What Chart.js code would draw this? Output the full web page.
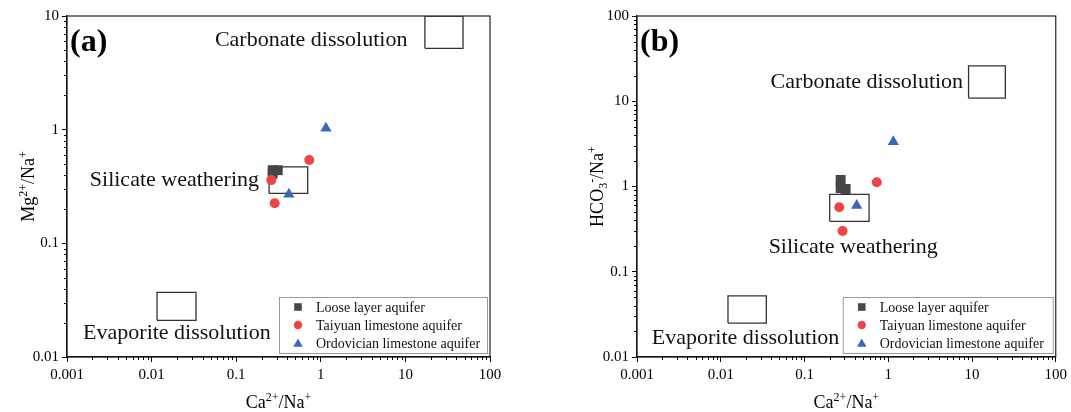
<!DOCTYPE html>
<html>
<head>
<meta charset="utf-8">
<script src="https://cdn.jsdelivr.net/npm/chart.js@4/dist/chart.umd.min.js"></script>
<style>
  body { margin: 0; background: #fff; }
  #wrap { position: relative; width: 1071px; height: 412px; }
  #ca { position: absolute; left: 0; top: 0; }
  #cb { position: absolute; left: 535px; top: 0; }
</style>
</head>
<body>
<div id="wrap">
  <canvas id="ca" width="535" height="412"></canvas>
  <canvas id="cb" width="536" height="412"></canvas>
</div>
<script>
// series
const seriesNames = ['Loose layer aquifer', 'Taiyuan limestone aquifer', 'Ordovician limestone aquifer'];

// Ca2+/Na+ (shared x of both panels)
const caNaLoose = [0.27, 0.27, 0.31];
const caNaTaiyuan = [0.73, 0.26, 0.285];
const caNaOrdo = [1.15, 0.42];

// Mg2+/Na+ (panel a)
const mgNaLoose = [0.44, 0.41, 0.44];
const mgNaTaiyuan = [0.54, 0.36, 0.225];
const mgNaOrdo = [1.03, 0.27];

// HCO3-/Na+ (panel b)
const hco3NaLoose = [1.19, 0.96, 0.935];
const hco3NaTaiyuan = [1.12, 0.57, 0.30];
const hco3NaOrdo = [3.35, 0.60];

// end-member regions: [x range], [y range]
const regionNames = ['Carbonate dissolution', 'Silicate weathering', 'Evaporite dissolution'];
const regionsA = [
  [[17, 48], [5.2, 10]],
  [[0.245, 0.70], [0.275, 0.47]],
  [[0.0116, 0.0335], [0.021, 0.037]],
];
const regionsB = [
  [[9.1, 25], [10.9, 26]],
  [[0.2, 0.59], [0.39, 0.81]],
  [[0.0122, 0.035], [0.025, 0.052]],
];

// where the region names sit (data coords, anchor side)
const labelsA = [
  { x: 0.056, y: 6.1, align: 'left' },
  { x: 0.186, y: 0.36, align: 'right' },
  { x: 0.00155, y: 0.0163, align: 'left' },
];
const labelsB = [
  { x: 0.0394, y: 16.8, align: 'left' },
  { x: 0.0373, y: 0.195, align: 'left' },
  { x: 0.0015, y: 0.0167, align: 'left' },
];

const xDecades = [0.001, 0.01, 0.1, 1, 10, 100];
const yDecadesA = [0.01, 0.1, 1, 10];
const yDecadesB = [0.01, 0.1, 1, 10, 100];

const serif = '"Liberation Serif", "Times New Roman", serif';
const colors = ['#464646', '#ee4444', '#3a68b8'];
const styles = ['rect', 'circle', 'triangle'];

const pts = (xs, ys) => xs.map((x, i) => ({ x: x, y: ys[i] }));
const rect = (r) => [
  { x: r[0][0], y: r[1][0] }, { x: r[0][1], y: r[1][0] },
  { x: r[0][1], y: r[1][1] }, { x: r[0][0], y: r[1][1] },
  { x: r[0][0], y: r[1][0] },
];

// draw text with super/subscripts, centred on (0,0) of current transform
function drawRich(ctx, parts) {
  const base = '18px ' + serif, small = '12px ' + serif;
  let w = 0;
  parts.forEach(p => { ctx.font = p.s ? small : base; p.w = ctx.measureText(p.t).width; w += p.w; });
  let x = -w / 2;
  ctx.textAlign = 'left';
  ctx.textBaseline = 'alphabetic';
  parts.forEach(p => {
    ctx.font = p.s ? small : base;
    const dy = p.s === 'sup' ? -7 : (p.s === 'sub' ? 4 : 0);
    ctx.fillText(p.t, x, 6 + dy);
    x += p.w;
  });
}

function marker(ctx, style, x, y, color, r) {
  ctx.fillStyle = color;
  ctx.beginPath();
  if (style === 'rect') {
    ctx.rect(x - r, y - r, 2 * r, 2 * r);
  } else if (style === 'circle') {
    ctx.arc(x, y, r * 1.1, 0, Math.PI * 2);
  } else {
    ctx.moveTo(x, y - r * 1.2);
    ctx.lineTo(x + r * 1.25, y + r);
    ctx.lineTo(x - r * 1.25, y + r);
    ctx.closePath();
  }
  ctx.fill();
}

function makePanel(id, cfg) {
  const datasets = [];
  for (let i = 0; i < 3; i++) {
    datasets.push({
      label: seriesNames[i],
      data: pts(cfg.xs[i], cfg.ys[i]),
      pointStyle: styles[i],
      pointRadius: i === 0 ? 7 : (i === 1 ? 5 : 6.5),
      backgroundColor: colors[i],
      borderColor: colors[i],
      borderWidth: 0,
      order: 3 - i,
    });
  }
  cfg.regions.forEach(r => datasets.push({
    data: rect(r),
    showLine: true,
    pointRadius: 0,
    borderColor: '#333',
    borderWidth: 1.3,
    fill: false,
    order: 10,
  }));

  const decor = {
    id: 'decor',
    afterDraw(chart) {
      const ctx = chart.ctx, a = chart.chartArea;
      const sx = chart.scales.x, sy = chart.scales.y;
      ctx.save();
      // frame
      ctx.strokeStyle = '#222';
      ctx.lineWidth = 1.2;
      ctx.strokeRect(a.left, a.top, a.right - a.left, a.bottom - a.top);
      // minor ticks
      ctx.lineWidth = 1;
      ctx.strokeStyle = '#000';
      ctx.beginPath();
      xDecades.slice(0, -1).forEach(d => {
        for (let k = 2; k < 10; k++) {
          const px = Math.round(sx.getPixelForValue(d * k)) + 0.5;
          ctx.moveTo(px, a.bottom); ctx.lineTo(px, a.bottom + 3);
        }
      });
      cfg.yDecades.slice(0, -1).forEach(d => {
        for (let k = 2; k < 10; k++) {
          const py = Math.round(sy.getPixelForValue(d * k)) + 0.5;
          ctx.moveTo(a.left, py); ctx.lineTo(a.left - 3, py);
        }
      });
      ctx.stroke();

      // region names
      ctx.fillStyle = '#111';
      ctx.font = '22px ' + serif;
      ctx.textBaseline = 'middle';
      cfg.labels.forEach((l, i) => {
        ctx.textAlign = l.align;
        ctx.fillText(regionNames[i], sx.getPixelForValue(l.x), sy.getPixelForValue(l.y));
      });

      // panel letter
      ctx.font = 'bold 32px ' + serif;
      ctx.textAlign = 'left';
      ctx.fillStyle = '#000';
      ctx.fillText(cfg.letter, a.left + 3, a.top + 27);

      // axis titles
      ctx.fillStyle = '#000';
      ctx.save();
      ctx.translate((a.left + a.right) / 2, 402);
      drawRich(ctx, [{ t: 'Ca' }, { t: '2+', s: 'sup' }, { t: '/Na' }, { t: '+', s: 'sup' }]);
      ctx.restore();
      ctx.save();
      ctx.translate(cfg.yTitleX, (a.top + a.bottom) / 2);
      ctx.rotate(-Math.PI / 2);
      drawRich(ctx, cfg.yTitle);
      ctx.restore();

      // legend
      const lw = cfg.legendW, lh = 56;
      const lx = a.right - 3 - lw, ly = a.bottom - 4 - lh;
      ctx.fillStyle = '#fff';
      ctx.fillRect(lx, ly, lw, lh);
      ctx.strokeStyle = '#999';
      ctx.lineWidth = 1;
      ctx.strokeRect(lx + 0.5, ly + 0.5, lw, lh);
      ctx.font = '14px ' + serif;
      ctx.textBaseline = 'middle';
      for (let i = 0; i < 3; i++) {
        const ry = ly + 10 + i * 18;
        marker(ctx, styles[i], lx + 19, ry, colors[i], 3.8);
        ctx.fillStyle = '#111';
        ctx.textAlign = 'left';
        ctx.fillText(seriesNames[i], lx + 37, ry + 1);
      }
      ctx.restore();
    }
  };

  const tickFont = { family: serif, size: 15 };
  return new Chart(document.getElementById(id), {
    type: 'scatter',
    data: { datasets: datasets },
    options: {
      responsive: false,
      animation: false,
      events: [],
      layout: { padding: { top: 16, right: cfg.padRight, left: 0, bottom: 0 } },
      plugins: { legend: { display: false }, tooltip: { enabled: false } },
      scales: {
        x: {
          type: 'logarithmic',
          min: 0.001, max: 100,
          afterBuildTicks: s => { s.ticks = xDecades.map(v => ({ value: v })); },
          afterFit: s => { s.height = 55; },
          ticks: { font: tickFont, color: '#000', padding: 4, autoSkip: false, maxRotation: 0, callback: v => String(v) },
          grid: { drawOnChartArea: false, drawTicks: true, tickLength: 5, color: '#000' },
          border: { display: true, color: '#000', width: 1.2 },
        },
        y: {
          type: 'logarithmic',
          min: cfg.yDecades[0], max: cfg.yDecades[cfg.yDecades.length - 1],
          afterBuildTicks: s => { s.ticks = cfg.yDecades.map(v => ({ value: v })); },
          afterFit: s => { s.width = cfg.yAxisW; },
          ticks: { font: tickFont, color: '#000', padding: 3, autoSkip: false, callback: v => String(v) },
          grid: { drawOnChartArea: false, drawTicks: true, tickLength: 5, color: '#000' },
          border: { display: true, color: '#000', width: 1.2 },
        },
      },
    },
    plugins: [decor],
  });
}

makePanel('ca', {
  xs: [caNaLoose, caNaTaiyuan, caNaOrdo],
  ys: [mgNaLoose, mgNaTaiyuan, mgNaOrdo],
  regions: regionsA,
  labels: labelsA,
  yDecades: yDecadesA,
  letter: '(a)',
  yTitle: [{ t: 'Mg' }, { t: '2+', s: 'sup' }, { t: '/Na' }, { t: '+', s: 'sup' }],
  yTitleX: 28,
  yAxisW: 67,
  padRight: 45,
  legendW: 208,
});

makePanel('cb', {
  xs: [caNaLoose, caNaTaiyuan, caNaOrdo],
  ys: [hco3NaLoose, hco3NaTaiyuan, hco3NaOrdo],
  regions: regionsB,
  labels: labelsB,
  yDecades: yDecadesB,
  letter: '(b)',
  yTitle: [{ t: 'HCO' }, { t: '3', s: 'sub' }, { t: '-', s: 'sup' }, { t: '/Na' }, { t: '+', s: 'sup' }],
  yTitleX: 62,
  yAxisW: 102,
  padRight: 11,
  legendW: 210,
});
</script>
</body>
</html>
